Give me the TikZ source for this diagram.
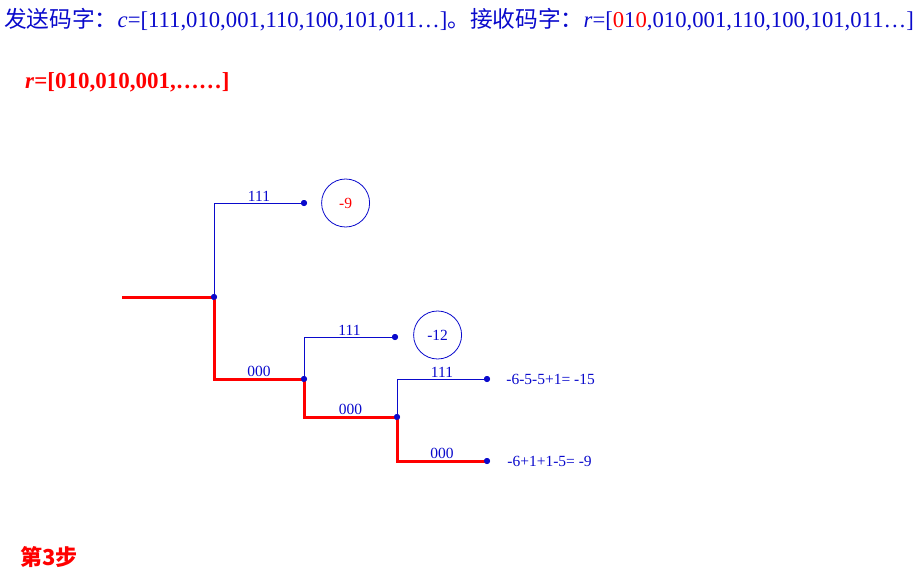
\documentclass[tikz,border=0pt]{standalone}
\usepackage{fontspec}
\setmainfont{Liberation Serif}
\newfontfamily\cjk{Noto Sans CJK SC}
\usepackage{xcolor}
\usetikzlibrary{positioning}
\definecolor{trellisblue}{HTML}{0A0ACC}

\begin{document}
\begin{tikzpicture}[
    x=1pt,y=-1pt,
    font=\fontsize{15.5}{17}\selectfont,
    survivor/.style={draw=red,line width=3pt},
    branch/.style={draw=trellisblue,line width=1pt},
    dot/.style={circle,fill=trellisblue,inner sep=0pt,minimum size=6pt},
    bits/.style={text=trellisblue,inner sep=1pt},
    metric/.style={circle,draw=trellisblue,thick,minimum size=48pt,inner sep=0pt},
    sum/.style={text=trellisblue,inner sep=0pt}
  ]
    \useasboundingbox (0,0) rectangle (919,573);

    % code words
    \node[anchor=base west,inner sep=0pt,text=trellisblue,font=\fontsize{22.7}{24}\selectfont] (head) at (4,27)
      {{\cjk 发送码字：}\textit{c}=[111,010,001,110,100,101,011…]{\cjk 。接收码字：}\textit{r}=[{\color{red}0}1{\color{red}0},010,001,110,100,101,011…]};
    \node[anchor=base west,inner sep=0pt,text=red,font=\fontsize{23}{25}\selectfont\bfseries] (recv) at (25,88)
      {\textit{r}=[010,010,001,……]};
    \node[anchor=base west,inner sep=0pt,text=red,font=\fontsize{22}{24}\selectfont\cjk\bfseries] (step) at (20,565)
      {第3步};

    % trellis
    \coordinate (root) at (122,297);
    \node[dot] (a) at (214,297) {};
    \node[dot] (a1) at (304,203) {};
    \node[dot] (b) at (304,379) {};
    \node[dot] (b1) at (395,337) {};
    \node[dot] (c) at (397,417) {};
    \node[dot] (c1) at (487,379) {};
    \node[dot] (c0) at (487,461) {};

    \draw[branch] (a.center) |- node[bits,above,pos=0.75] {111} (a1.center);
    \draw[branch] (b.center) |- node[bits,above,pos=0.75] {111} (b1.center);
    \draw[branch] (c.center) |- node[bits,above,pos=0.75] {111} (c1.center);

    \draw[survivor] (root) -- (a.center);
    \draw[survivor] (a.center) |- node[bits,above,pos=0.75] {000} (b.center);
    \draw[survivor] (b.center) |- node[bits,above,pos=0.75] {000} (c.center);
    \draw[survivor] (c.center) |- node[bits,above,pos=0.75] {000} (c0.center);

    \foreach \n in {a,a1,b,b1,c,c1,c0} \node[dot] at (\n) {};

    \node[metric,right=14pt of a1,text=red] (m1) {-9};
    \node[metric,right=15pt of b1,yshift=2pt,text=trellisblue] (m2) {-12};
    \node[sum,right=16pt of c1] (s1) {-6-5-5+1= -15};
    \node[sum,right=17pt of c0] (s0) {-6+1+1-5= -9};
  \end{tikzpicture}
\end{document}
